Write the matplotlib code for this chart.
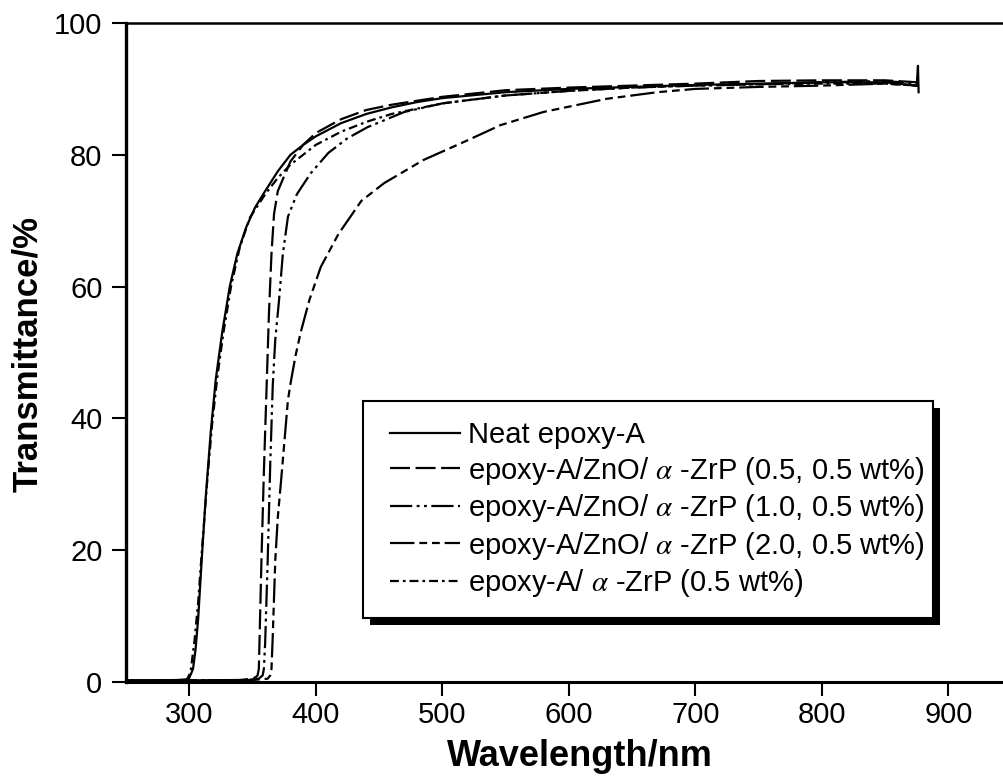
import matplotlib
matplotlib.use("Agg")
import matplotlib.pyplot as plt
from matplotlib.patches import Rectangle

# ---------------- data ----------------
neat_wl = [250, 290, 298, 300, 303, 305, 307, 310, 313, 317, 321, 326, 332, 338, 345, 352,
           360, 370, 380, 390, 400, 420, 440, 460, 480, 500, 550, 600, 650, 700, 750, 800,
           850, 875, 876, 876.5]
neat_t = [0.2, 0.3, 0.4, 0.6, 2, 5, 9.5, 19, 28, 38, 46, 53, 60, 65, 69, 72,
          74.5, 77.5, 80, 81.5, 82.8, 84.8, 86.2, 87.2, 88, 88.6, 89.5, 90, 90.3, 90.6, 90.8, 91,
          91, 90.5, 93.5, 89.5]

zno05_wl = [250, 340, 350, 353, 354, 355, 357, 359, 361, 363, 365, 367, 370, 380, 390, 400,
            420, 440, 460, 500, 550, 600, 650, 700, 750, 800, 850, 876]
zno05_t = [0.2, 0.3, 0.5, 0.8, 1, 2, 18, 32, 44, 56, 65, 71, 74.5, 79, 81.5, 83.3,
           85.4, 86.8, 87.6, 88.8, 89.8, 90.2, 90.5, 90.8, 91.2, 91.3, 91.3, 91]

zno10_wl = [250, 345, 355, 358, 359, 360, 362, 364, 366, 368, 371, 374, 378, 385, 396, 410,
            425, 441, 470, 500, 550, 600, 650, 700, 750, 800, 850, 876]
zno10_t = [0.2, 0.3, 0.5, 1, 2, 6, 18.5, 33, 45, 52, 58, 65, 70.6, 74, 77.2, 80.3,
           82.5, 84.2, 86.5, 87.8, 89, 89.7, 90.2, 90.5, 90.7, 91, 91.2, 90.8]

zno20_wl = [250, 350, 362, 364, 365, 366, 368, 370, 372.6, 375, 378, 380.5, 384, 388, 395,
            404, 418, 436, 454, 485, 520, 546, 580, 630, 670, 700, 750, 800, 850, 876]
zno20_t = [0.2, 0.3, 0.5, 1, 2, 7, 18.5, 25, 30.6, 36, 42.8, 45.8, 49.5, 53, 58,
           63, 68, 73, 75.7, 79.2, 82.2, 84.5, 86.5, 88.5, 89.5, 90, 90.3, 90.5, 90.8, 90.5]

zrp_wl = [250, 298, 301, 304, 307, 310, 314, 318, 322, 327, 333, 340, 348, 360, 370, 380,
          390, 400, 420, 440, 460, 500, 550, 600, 650, 700, 750, 800, 850, 876]
zrp_t = [0.2, 0.3, 1.5, 6, 12, 20, 30, 39, 46, 53, 60, 66, 70.5, 74, 76.5, 78.5,
         80, 81.5, 83.5, 85, 86.2, 87.8, 89, 89.7, 90.2, 90.5, 90.7, 90.8, 90.8, 90.5]

labels = ["Neat epoxy-A",
          r"epoxy-A/ZnO/ $\alpha$ -ZrP (0.5, 0.5 wt%)",
          r"epoxy-A/ZnO/ $\alpha$ -ZrP (1.0, 0.5 wt%)",
          r"epoxy-A/ZnO/ $\alpha$ -ZrP (2.0, 0.5 wt%)",
          r"epoxy-A/ $\alpha$ -ZrP (0.5 wt%)"]

x_ticks = [300, 400, 500, 600, 700, 800, 900]
y_ticks = [0, 20, 40, 60, 80, 100]

# ---------------- styling ----------------
plt.rcParams['font.family'] = ['Liberation Sans', 'DejaVu Sans']
plt.rcParams['mathtext.fontset'] = 'stix'

W, H = 1004, 778
fig = plt.figure(figsize=(W / 100, H / 100), dpi=100)
ax = fig.add_axes([126 / W, 1 - 682 / H, 1 - 126 / W, (682 - 23) / H])

styles = [
    '-',
    (0, (9, 2.5)),
    (0, (10, 2, 1.3, 2, 1.3, 2)),
    (0, (11, 2.2, 3.5, 2.2, 3.5, 2.2)),
    (0, (4, 1.8, 1.2, 1.8)),
]
series = [(neat_wl, neat_t), (zno05_wl, zno05_t), (zno10_wl, zno10_t),
          (zno20_wl, zno20_t), (zrp_wl, zrp_t)]
for (wl, t), st, lab in zip(series, styles, labels):
    ax.plot(wl, t, color='black', lw=1.6, ls=st, label=lab)

ax.set_xlim(250, 944)
ax.set_ylim(0, 100)
ax.set_xticks(x_ticks)
ax.set_yticks(y_ticks)
ax.tick_params(axis='both', direction='out', length=10, width=1.5, labelsize=21,
               colors='black')
ax.tick_params(axis='y', pad=7)
ax.tick_params(axis='x', pad=4)

ax.spines['right'].set_visible(False)
ax.spines['left'].set_linewidth(2.4)
ax.spines['bottom'].set_linewidth(2.2)
ax.spines['top'].set_linewidth(1.8)

fig.text(580 / W, 1 - 756 / H, "Wavelength/nm", fontsize=26, fontweight='bold',
         ha='center', va='center')
fig.text(28 / W, 1 - 354 / H, "Transmittance/%", fontsize=25, fontweight='bold',
         ha='center', va='center', rotation=90)

# legend box with heavy offset shadow (pixel placement)
shadow = Rectangle((370 / W, 1 - 625 / H), (940 - 370) / W, (625 - 408) / H,
                   transform=fig.transFigure, facecolor='black', edgecolor='none',
                   zorder=4, clip_on=False)
frame = Rectangle((363 / W, 1 - 618 / H), (933 - 363) / W, (618 - 401) / H,
                  transform=fig.transFigure, facecolor='white', edgecolor='black',
                  lw=1.5, zorder=4.5, clip_on=False)
ax.add_patch(shadow)
ax.add_patch(frame)

leg = ax.legend(loc='upper left', bbox_to_anchor=(390 / W, 1 - 421 / H),
                bbox_transform=fig.transFigure, borderaxespad=0, borderpad=0,
                fontsize=21, handlelength=2.4, handletextpad=0.27,
                labelspacing=0.19, frameon=False)
leg.set_zorder(5)

fig.savefig("out.png", dpi=100)
